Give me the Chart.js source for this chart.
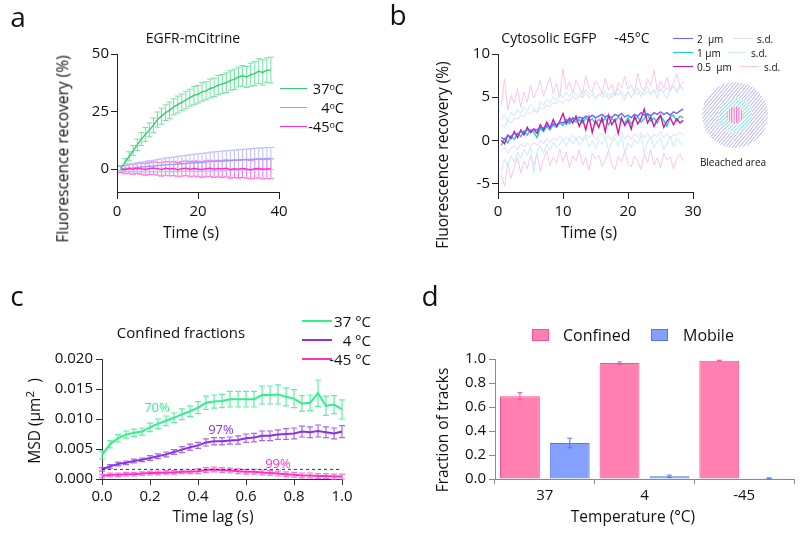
<!DOCTYPE html>
<html>
<head>
<meta charset="utf-8">
<script src="https://cdn.jsdelivr.net/npm/chart.js@4.4.1/dist/chart.umd.min.js"></script>
<style>
body { margin: 0; background: #fff; font-family: 'Open Sans', sans-serif; color: #111; }
#fig { position: relative; width: 800px; height: 533px; overflow: hidden; }
#fig canvas { position: absolute; }
.t { position: absolute; white-space: nowrap; line-height: 1; transform: translate(-50%, -50%); color: #111; }
.deg { font-size: 0.62em; vertical-align: 0.5em; }
.sw { position: absolute; height: 0; }
.box { position: absolute; box-sizing: border-box; }
</style>
</head>
<body>
<div id="fig">
  <canvas id="chartA" width="400" height="266" style="left:0;top:0"></canvas>
  <canvas id="chartB" width="400" height="266" style="left:400px;top:0"></canvas>
  <canvas id="chartC" width="400" height="267" style="left:0;top:266px"></canvas>
  <canvas id="chartD" width="400" height="267" style="left:400px;top:266px"></canvas>
  <svg width="70" height="70" style="position:absolute;left:700px;top:80px">
    <defs>
      <pattern id="hatchOuter" width="2.6" height="3" patternUnits="userSpaceOnUse" patternTransform="rotate(40)">
        <line x1="0" y1="0" x2="0" y2="3" stroke="#8c88f0" stroke-width="1.1"/>
      </pattern>
      <pattern id="hatchMid" width="2.6" height="3" patternUnits="userSpaceOnUse" patternTransform="rotate(45)">
        <line x1="0" y1="0" x2="0" y2="3" stroke="#2fcfd0" stroke-width="1.1"/>
      </pattern>
      <pattern id="hatchIn" width="2.4" height="3" patternUnits="userSpaceOnUse">
        <line x1="0.6" y1="0" x2="0.6" y2="3" stroke="#ec6cc4" stroke-width="1.1"/>
      </pattern>
    </defs>
    <circle cx="35" cy="35" r="33" fill="url(#hatchOuter)"/>
    <circle cx="35" cy="35" r="17" fill="#fff"/>
    <circle cx="35" cy="35" r="17" fill="url(#hatchMid)"/>
    <circle cx="35" cy="35" r="8.5" fill="#fff"/>
    <circle cx="35" cy="35" r="8.5" fill="url(#hatchIn)"/>
  </svg>
</div>
<script>
// ---- panel a: EGFR-mCitrine FRAP ----
const timeA = [1, 2, 3, 4, 5, 6, 7, 8, 9, 10, 11, 12, 13, 14, 15, 16, 17, 18, 19, 20,
  21, 22, 23, 24, 25, 26, 27, 28, 29, 30, 31, 32, 33, 34, 35, 36, 37, 38];
const recov37 = [0.5, 3, 5.5, 8, 10.5, 13, 15, 17, 19, 21.5, 23, 24.5, 25.5, 27, 28, 29, 30, 31, 32, 32.5,
  33.5, 34, 35, 35.5, 36.5, 37, 37.5, 38.5, 39, 40, 40.5, 40, 41, 41.5, 42.5, 42, 43, 43];
const recov37Err = [1, 1.5, 2, 2.2, 2.5, 2.8, 3, 3, 3.2, 3.3, 3.5, 3.4, 3.6, 3.5, 3.7, 3.6, 3.8, 3.7, 3.9, 3.8,
  4, 3.9, 4.1, 4, 4.2, 4.1, 4.3, 4.2, 4.4, 4.3, 4.5, 4.6, 5, 5.2, 5.4, 5.5, 5.3, 5.6];
const recov4 = [0, 0.2, 0.4, 0.5, 0.7, 0.9, 1.0, 1.2, 1.3, 1.5, 1.6, 1.8, 1.9, 2.0, 2.2, 2.3, 2.4, 2.6, 2.7, 2.8,
  2.9, 3.0, 3.2, 3.3, 3.4, 3.5, 3.6, 3.7, 3.8, 3.9, 4.0, 4.1, 4.2, 4.3, 4.4, 4.4, 4.5, 4.6];
const recov4Err = [1, 1.3, 1.5, 1.7, 1.9, 2.1, 2.2, 2.4, 2.5, 2.7, 2.8, 3.0, 3.1, 3.2, 3.3, 3.4, 3.5, 3.6, 3.7, 3.8,
  3.9, 4.0, 4.1, 4.1, 4.2, 4.3, 4.3, 4.4, 4.4, 4.5, 4.5, 4.6, 4.6, 4.7, 4.7, 4.8, 4.8, 4.8];
const recovM45 = [0, -0.3, 0.2, -0.1, 0.3, 0.1, -0.2, 0.2, 0.4, 0.1, -0.2, 0.3, 0.0, 0.2, -0.3, 0.1, 0.3, -0.1, 0.2, 0.0,
  -0.2, 0.1, 0.3, -0.1, 0.2, 0.0, 0.3, -0.2, 0.1, -0.1, 0.2, 0.0, -0.3, 0.1, 0.2, -0.1, 0.0, 0.1];
const recovM45Err = [1.5, 1.8, 2.0, 2.2, 2.3, 2.4, 2.5, 2.6, 2.7, 2.8, 2.9, 3.0, 3.0, 3.1, 3.1, 3.2, 3.2, 3.3, 3.3, 3.4,
  3.4, 3.5, 3.5, 3.6, 3.6, 3.7, 3.7, 3.8, 3.8, 3.9, 3.9, 4.0, 4.0, 4.1, 4.1, 4.2, 4.2, 4.3];
const ticksAX = [0, 20, 40];
const ticksAY = [0, 25, 50];

// ---- panel b: cytosolic EGFP at -45C ----
const timeB = [0.5, 1, 1.5, 2, 2.5, 3, 3.5, 4, 4.5, 5, 5.5, 6, 6.5, 7, 7.5, 8, 8.5, 9, 9.5, 10,
  10.5, 11, 11.5, 12, 12.5, 13, 13.5, 14, 14.5, 15, 15.5, 16, 16.5, 17, 17.5, 18, 18.5, 19, 19.5, 20,
  20.5, 21, 21.5, 22, 22.5, 23, 23.5, 24, 24.5, 25, 25.5, 26, 26.5, 27, 27.5, 28, 28.5];
const mean2um = [0.3, 0.1, 0.5, 0.4, 0.8, 0.7, 1.0, 0.9, 1.2, 1.1, 1.3, 1.2, 1.5, 1.4, 1.7, 1.6, 1.9, 1.8, 2.1, 2.0,
  2.4, 2.2, 2.6, 2.4, 2.7, 2.5, 2.8, 2.6, 2.9, 2.6, 2.8, 3.0, 2.7, 2.9, 2.6, 3.0, 2.8, 3.1, 2.7, 2.9,
  2.6, 3.0, 2.8, 3.2, 2.9, 3.1, 2.8, 3.2, 3.0, 3.3, 3.0, 3.2, 2.9, 3.3, 3.1, 3.4, 3.6];
const mean1um = [-0.6, 0.2, -0.3, 0.5, 0.1, 0.8, 0.4, 1.1, 0.6, 1.2, 0.9, 0.3, 1.4, 1.0, 1.6, 1.2, 1.8, 1.5, 2.0, 1.7,
  2.3, 1.9, 2.5, 2.1, 2.4, 2.0, 2.6, 2.2, 2.5, 1.9, 2.4, 2.1, 2.6, 1.8, 2.5, 2.2, 2.7, 2.3, 2.0, 2.6,
  1.9, 2.4, 2.7, 2.1, 2.5, 3.0, 2.2, 2.6, 2.0, 2.8, 2.3, 1.6, 2.7, 2.9, 2.2, 2.8, 2.6];
const mean05um = [0.0, -0.4, 0.6, 0.2, 1.0, 0.3, 1.2, 0.6, 1.5, 0.9, 1.3, 0.8, 1.8, 1.2, 2.1, 1.4, 2.4, 1.6, 2.2, 3.1,
  1.9, 2.6, 2.0, 2.8, 1.6, 2.5, 1.2, 2.7, 0.9, 2.3, 1.5, 2.6, 1.0, 2.9, 1.8, 2.4, 0.8, 2.6, 1.7, 2.3,
  1.3, 2.8, 1.9, 2.5, 3.6, 2.0, 2.7, 1.6, 2.4, 2.9, 1.5, 2.2, 2.6, 1.8, 2.5, 2.0, 2.3];
const sdHigh2um = [1.8, 1.5, 2.3, 2.0, 2.6, 2.4, 2.9, 2.7, 3.3, 3.0, 3.5, 3.2, 3.8, 3.6, 4.1, 3.9, 4.4, 4.2, 4.6, 4.3,
  4.8, 4.5, 5.1, 4.7, 5.2, 4.9, 5.4, 5.0, 5.3, 4.8, 5.2, 5.5, 5.0, 5.4, 4.9, 5.6, 5.2, 5.7, 5.1, 5.5,
  5.0, 5.6, 5.3, 5.8, 5.2, 5.7, 5.4, 5.9, 5.5, 6.0, 5.6, 6.1, 5.7, 6.2, 5.8, 6.3, 6.0];
const sdHigh1um = [2.4, 3.0, 2.2, 3.3, 2.8, 3.6, 3.1, 3.9, 3.4, 4.2, 3.8, 3.2, 4.5, 4.0, 4.8, 4.3, 5.1, 4.6, 5.4, 4.9,
  5.6, 5.0, 5.8, 5.2, 5.5, 4.9, 5.9, 5.3, 5.7, 4.8, 5.4, 5.0, 5.8, 4.7, 5.5, 5.1, 6.0, 5.3, 4.6, 5.7,
  4.9, 5.5, 6.1, 5.0, 5.6, 6.3, 5.2, 5.8, 4.9, 6.0, 5.4, 4.8, 5.9, 6.4, 5.5, 6.2, 5.8];
const sdHigh05um = [4.0, 7.1, 3.5, 5.2, 4.3, 6.0, 3.8, 5.6, 4.4, 6.4, 4.9, 5.8, 6.9, 5.1, 6.2, 7.3, 5.4, 6.6, 5.0, 8.3,
  5.9, 6.8, 5.5, 7.0, 6.1, 5.3, 7.5, 6.0, 5.6, 6.9, 6.3, 5.4, 7.2, 5.8, 6.5, 5.2, 6.7, 6.1, 7.4, 5.9,
  6.4, 5.5, 7.8, 6.2, 5.7, 7.1, 6.3, 8.1, 5.8, 6.9, 6.0, 7.3, 5.9, 6.6, 7.7, 6.2, 6.8];
const sdLow2um = [-1.2, -0.8, -1.5, -0.9, -0.6, -1.1, -0.4, -0.8, -0.3, -0.7, -0.2, -0.6, 0.0, -0.4, 0.2, -0.3, 0.3, -0.1, 0.5, 0.0,
  0.4, 0.1, 0.6, 0.2, 0.5, 0.0, 0.7, 0.3, 0.6, 0.1, 0.5, 0.8, 0.2, 0.6, 0.0, 0.7, 0.3, 0.9, 0.2, 0.6,
  0.1, 0.7, 0.4, 0.9, 0.3, 0.8, 0.2, 0.7, 0.4, 1.0, 0.3, 0.8, 0.2, 0.7, 0.5, 0.9, 0.6];
const sdLow1um = [-3.6, -2.2, -3.0, -1.8, -2.5, -1.4, -2.1, -1.0, -1.7, -0.8, -3.8, -1.3, -0.6, -1.5, -0.4, -1.2, -0.2, -0.9, -0.5, 0.1,
  -0.7, 0.2, -0.4, 0.3, -0.6, -0.1, 0.4, -0.8, 0.0, -1.0, 0.1, -0.5, 0.3, -1.2, -0.2, 0.2, -0.6, 0.5, -1.4, -0.3,
  -0.8, 0.1, -0.4, 0.6, -1.5, -0.2, 0.4, -0.9, -0.1, 0.3, -1.1, -0.4, 0.5, -0.7, 0.2, -0.3, -0.6];
const sdLow05um = [-4.0, -5.3, -2.6, -4.4, -3.1, -2.0, -3.8, -2.4, -3.3, -1.8, -2.9, -1.5, -3.6, -2.2, -1.2, -3.0, -1.9, -2.7, -1.0, -2.5,
  -1.4, -3.2, -1.8, -2.4, -1.1, -2.9, -2.0, -3.5, -1.5, -2.2, -1.7, -3.0, -2.3, -1.2, -2.8, -3.4, -1.9, -2.5, -1.3, -2.7,
  -3.1, -1.8, -2.4, -3.4, -1.6, -2.6, -1.1, -2.9, -2.0, -3.2, -1.5, -2.3, -1.9, -3.3, -2.1, -1.6, -2.4];
const ticksBX = [0, 10, 20, 30];
const ticksBY = [-5, 0, 5, 10];

// ---- panel c: MSD of confined tracks ----
const lagC = [0, 0.033, 0.067, 0.1, 0.133, 0.167, 0.2, 0.233, 0.267, 0.3, 0.333, 0.367, 0.4, 0.433, 0.467, 0.5,
  0.533, 0.567, 0.6, 0.633, 0.667, 0.7, 0.733, 0.767, 0.8, 0.833, 0.867, 0.9, 0.933, 0.967, 1.0];
const msd37 = [0.0040, 0.0058, 0.0068, 0.0074, 0.0077, 0.0079, 0.0086, 0.0092, 0.0097, 0.0102, 0.0108, 0.0113, 0.0119, 0.0127, 0.0129, 0.0130,
  0.0133, 0.0133, 0.0133, 0.0133, 0.0140, 0.0140, 0.0141, 0.0137, 0.0134, 0.0126, 0.0127, 0.0143, 0.0122, 0.0124, 0.0116];
const msd37Err = [0.0007, 0.0006, 0.0006, 0.0006, 0.0006, 0.0006, 0.0007, 0.0008, 0.0008, 0.0008, 0.0009, 0.0009, 0.0010, 0.0011, 0.0011, 0.0011,
  0.0013, 0.0013, 0.0013, 0.0013, 0.0015, 0.0015, 0.0016, 0.0015, 0.0015, 0.0013, 0.0013, 0.0022, 0.0016, 0.0015, 0.0016];
const msd4 = [0.0016, 0.0021, 0.0025, 0.0027, 0.0030, 0.0032, 0.0035, 0.0038, 0.0041, 0.0045, 0.0049, 0.0053, 0.0056, 0.0061, 0.0063, 0.0063,
  0.0064, 0.0065, 0.0068, 0.0069, 0.0072, 0.0072, 0.0074, 0.0075, 0.0076, 0.0079, 0.0078, 0.0080, 0.0078, 0.0076, 0.0079];
const msd4Err = [0.0003, 0.0003, 0.0003, 0.0003, 0.0003, 0.0003, 0.0004, 0.0004, 0.0004, 0.0004, 0.0005, 0.0005, 0.0005, 0.0006, 0.0006, 0.0006,
  0.0006, 0.0007, 0.0007, 0.0007, 0.0008, 0.0008, 0.0008, 0.0009, 0.0009, 0.0009, 0.0009, 0.0010, 0.0009, 0.0009, 0.0010];
const msdM45 = [0.0005, 0.0007, 0.0007, 0.0008, 0.0008, 0.0009, 0.0010, 0.0010, 0.0011, 0.0011, 0.0012, 0.0012, 0.0013, 0.0015, 0.0016, 0.0015,
  0.0014, 0.0013, 0.0012, 0.0012, 0.0011, 0.0010, 0.0009, 0.0008, 0.0007, 0.0006, 0.0006, 0.0005, 0.0005, 0.0004, 0.0004];
const msdM45Err = [0.0003, 0.0003, 0.0003, 0.0003, 0.0003, 0.0003, 0.0003, 0.0003, 0.0003, 0.0003, 0.0003, 0.0003, 0.0004, 0.0004, 0.0004, 0.0004,
  0.0004, 0.0004, 0.0004, 0.0004, 0.0004, 0.0004, 0.0004, 0.0004, 0.0004, 0.0004, 0.0004, 0.0004, 0.0004, 0.0004, 0.0004];
const confinedThreshold = 0.0016;
const ticksCX = [0, 0.2, 0.4, 0.6, 0.8, 1.0];
const ticksCY = [0, 0.005, 0.010, 0.015, 0.020];

// ---- panel d: fraction of tracks ----
const temps = ['37', '4', '-45'];
const confined = [0.69, 0.966, 0.986];
const confinedErr = [0.03, 0.01, 0.004];
const mobile = [0.30, 0.022, 0.006];
const mobileErr = [0.04, 0.01, 0.003];
const ticksDY = [0, 0.2, 0.4, 0.6, 0.8, 1.0];

// colours
const GREEN_A = '#2fcf72', GREEN_A_ERR = '#74e2a2';
const LAV_A = '#9a9cff', LAV_A_ERR = '#bcbdff';
const PINK_A = '#ff2ccf', PINK_A_ERR = '#ff72e0';
const BLUE_B = '#6b63ff', CYAN_B = '#1fcfcf', MAG_B = '#d3139e';
const BLUE_B_SD = '#dcdcff', CYAN_B_SD = '#c4eef2', MAG_B_SD = '#f6c8ec';
const GREEN_C = '#2ff08c', PURPLE_C = '#8b2fe8', PINK_C = '#ff30c8';
const GREEN_C_ERR = '#5cf2a4', PURPLE_C_ERR = '#a965ee', PINK_C_ERR = '#ff70dc';
const CONF_FILL = '#ff80b0', CONF_BORDER = '#ff4f95';
const MOB_FILL = '#84a1ff', MOB_BORDER = '#4b78ff';

const FONT = 'Open Sans';
const TICK_SIZE = 15;
const pts = (xs, ys) => xs.map((x, i) => ({ x: x, y: ys[i] }));
const fixedTicks = list => scale => { scale.ticks = list.map(v => ({ value: v })); };

// error bars drawn from each dataset's "errors" array
function drawErrorBars(chart, opts) {
  const ctx = chart.ctx;
  const yScale = chart.scales.y;
  chart.data.datasets.forEach((ds, i) => {
    if (!ds.errors) return;
    const meta = chart.getDatasetMeta(i);
    ctx.save();
    ctx.strokeStyle = ds.errorColor || ds.borderColor;
    ctx.lineWidth = opts.width || 1;
    meta.data.forEach((el, j) => {
      const raw = ds.data[j];
      const v = typeof raw === 'number' ? raw : raw.y;
      const e = ds.errors[j];
      const top = yScale.getPixelForValue(v + e);
      const bot = yScale.getPixelForValue(v - e);
      const c = opts.cap || 3;
      ctx.beginPath();
      ctx.moveTo(el.x, top); ctx.lineTo(el.x, bot);
      ctx.moveTo(el.x - c, top); ctx.lineTo(el.x + c, top);
      ctx.moveTo(el.x - c, bot); ctx.lineTo(el.x + c, bot);
      ctx.stroke();
    });
    ctx.restore();
  });
}
const errorBarPlugin = {
  id: 'errorBars',
  beforeDatasetsDraw(chart, args, opts) { if (opts.under) drawErrorBars(chart, opts); },
  afterDatasetsDraw(chart, args, opts) { if (!opts.under) drawErrorBars(chart, opts); }
};

function axis(color, tickLen, pad, extra) {
  return Object.assign({
    border: { display: true, color: color, width: 1 },
    grid: { display: true, drawOnChartArea: false, drawTicks: true, tickLength: tickLen, color: color },
    ticks: { color: '#111', padding: pad, font: { family: FONT, size: TICK_SIZE } }
  }, extra);
}

function lineSet(label, xs, ys, color, width, errs, errColor, dash) {
  return {
    label: label, data: pts(xs, ys), borderColor: color, borderWidth: width,
    pointRadius: 0, tension: 0, fill: false, errors: errs, errorColor: errColor,
    borderDash: dash || []
  };
}

const baseOpts = {
  responsive: false, animation: false,
  plugins: { legend: { display: false }, tooltip: { enabled: false } }
};

// panel a
new Chart(document.getElementById('chartA'), {
  type: 'line',
  data: { datasets: [
    lineSet('-45ºC', timeA, recovM45, PINK_A, 1.4, recovM45Err, PINK_A_ERR),
    lineSet('4ºC', timeA, recov4, LAV_A, 1.4, recov4Err, LAV_A_ERR),
    lineSet('37ºC', timeA, recov37, GREEN_A, 1.4, recov37Err, GREEN_A_ERR)
  ] },
  options: Object.assign({}, baseOpts, {
    layout: { padding: { left: 77, right: 121, top: 54, bottom: 44 } },
    plugins: Object.assign({}, baseOpts.plugins, { errorBars: { under: true, cap: 3, width: 1 } }),
    scales: {
      x: axis('#222', 7, 4, { type: 'linear', min: 0, max: 40, afterBuildTicks: fixedTicks(ticksAX), afterFit: s => { s.height = 30; } }),
      y: axis('#222', 6, 2, { min: -10, max: 50, afterBuildTicks: fixedTicks(ticksAY), afterFit: s => { s.width = 40; } })
    }
  }),
  plugins: [errorBarPlugin]
});

// panel b
new Chart(document.getElementById('chartB'), {
  type: 'line',
  data: { datasets: [
    lineSet('s.d.', timeB, sdHigh2um, BLUE_B_SD, 1),
    lineSet('s.d.', timeB, sdLow2um, BLUE_B_SD, 1),
    lineSet('s.d.', timeB, sdHigh1um, CYAN_B_SD, 1),
    lineSet('s.d.', timeB, sdLow1um, CYAN_B_SD, 1),
    lineSet('s.d.', timeB, sdHigh05um, MAG_B_SD, 1),
    lineSet('s.d.', timeB, sdLow05um, MAG_B_SD, 1),
    lineSet('2 µm', timeB, mean2um, BLUE_B, 1.4),
    lineSet('0.5 µm', timeB, mean05um, MAG_B, 1.4),
    lineSet('1 µm', timeB, mean1um, CYAN_B, 1.4)
  ] },
  options: Object.assign({}, baseOpts, {
    layout: { padding: { left: 58, right: 107, top: 54, bottom: 44 } },
    scales: {
      x: axis('#222', 7, 4, { type: 'linear', min: 0, max: 30, afterBuildTicks: fixedTicks(ticksBX), afterFit: s => { s.height = 30; } }),
      y: axis('#222', 6, 2, { min: -6, max: 10, afterBuildTicks: fixedTicks(ticksBY), afterFit: s => { s.width = 40; } })
    }
  })
});

// panel c
new Chart(document.getElementById('chartC'), {
  type: 'line',
  data: { datasets: [
    lineSet('threshold', [0, 1], [confinedThreshold, confinedThreshold], '#333', 1, null, null, [3, 3]),
    lineSet('-45 °C', lagC, msdM45, PINK_C, 2, msdM45Err, PINK_C_ERR),
    lineSet('4 °C', lagC, msd4, PURPLE_C, 2, msd4Err, PURPLE_C_ERR),
    lineSet('37 °C', lagC, msd37, GREEN_C, 2, msd37Err, GREEN_C_ERR)
  ] },
  options: Object.assign({}, baseOpts, {
    layout: { padding: { left: 52, right: 58, top: 93, bottom: 24 } },
    plugins: Object.assign({}, baseOpts.plugins, { errorBars: { under: true, cap: 3, width: 1.2 } }),
    scales: {
      x: axis('#333', 6, 3, { type: 'linear', min: 0, max: 1, afterBuildTicks: fixedTicks(ticksCX), afterFit: s => { s.height = 30; },
        ticks: { color: '#111', padding: 3, font: { family: FONT, size: TICK_SIZE }, callback: v => v.toFixed(1) } }),
      y: axis('#333', 6, 3, { min: 0, max: 0.02, afterBuildTicks: fixedTicks(ticksCY), afterFit: s => { s.width = 50; },
        ticks: { color: '#111', padding: 3, font: { family: FONT, size: TICK_SIZE }, callback: v => v.toFixed(3) } })
    }
  }),
  plugins: [errorBarPlugin]
});

// panel d
new Chart(document.getElementById('chartD'), {
  type: 'bar',
  data: {
    labels: temps,
    datasets: [
      { label: 'Confined', data: confined, errors: confinedErr, backgroundColor: CONF_FILL, borderColor: CONF_BORDER, errorColor: CONF_BORDER, borderWidth: 1 },
      { label: 'Mobile', data: mobile, errors: mobileErr, backgroundColor: MOB_FILL, borderColor: MOB_BORDER, errorColor: MOB_BORDER, borderWidth: 1 }
    ]
  },
  options: Object.assign({}, baseOpts, {
    layout: { padding: { left: 55, right: 6, top: 93, bottom: 24 } },
    plugins: Object.assign({}, baseOpts.plugins, { errorBars: { under: false, cap: 2.5, width: 1 } }),
    datasets: { bar: { categoryPercentage: 1.0, barPercentage: 0.8 } },
    scales: {
      x: axis('#8a8a8a', 5, 3, { grid: { display: true, drawOnChartArea: false, offset: true, tickLength: 5, color: '#8a8a8a' }, afterFit: s => { s.height = 30; } }),
      y: axis('#8a8a8a', 6, 3, { min: 0, max: 1, afterBuildTicks: fixedTicks(ticksDY), afterFit: s => { s.width = 40; },
        ticks: { color: '#111', padding: 3, font: { family: FONT, size: TICK_SIZE }, callback: v => v.toFixed(1) } })
    }
  }),
  plugins: [errorBarPlugin]
});

// ---- text, legends ----
const fig = document.getElementById('fig');
function addText(html, x, y, size, opts) {
  opts = opts || {};
  const el = document.createElement('div');
  el.className = 't';
  el.style.left = x + 'px';
  el.style.top = y + 'px';
  el.style.fontSize = size + 'px';
  if (opts.color) el.style.color = opts.color;
  if (opts.rot) el.style.transform = 'translate(-50%, -50%) rotate(-90deg)';
  if (opts.align === 'left') el.style.transform = 'translate(0, -50%)';
  if (opts.align === 'right') el.style.transform = 'translate(-100%, -50%)';
  el.innerHTML = html;
  fig.appendChild(el);
}
function addSwatch(x1, x2, y, color, w) {
  const el = document.createElement('div');
  el.className = 'sw';
  el.style.left = x1 + 'px';
  el.style.width = (x2 - x1) + 'px';
  el.style.top = (y - w / 2) + 'px';
  el.style.borderTop = w + 'px solid ' + color;
  fig.appendChild(el);
}
function addBox(x, y, w, h, fill, border) {
  const el = document.createElement('div');
  el.className = 'box';
  Object.assign(el.style, { left: x + 'px', top: y + 'px', width: w + 'px', height: h + 'px', background: fill, border: '1px solid ' + border });
  fig.appendChild(el);
}

// panel letters
addText('a', 18, 16, 28);
addText('b', 398, 14, 28);
addText('c', 17, 295, 28);
addText('d', 430, 295, 28);

// a
addText('EGFR-mCitrine', 193, 38, 14);
addText('Time (s)', 191, 233, 15.5);
addText('Fluorescence recovery (%)', 62.5, 148.5, 15.5, { rot: true });
addSwatch(280, 307, 88.5, GREEN_A, 1.5);
addSwatch(280, 307, 107.5, LAV_A, 1.5);
addSwatch(280, 307, 126.5, PINK_A, 1.5);
addText('37<span class="deg">o</span>C', 344, 89, 14.5, { align: 'right' });
addText('4<span class="deg">o</span>C', 344, 108, 14.5, { align: 'right' });
addText('-45<span class="deg">o</span>C', 344, 127, 14.5, { align: 'right' });

// b
addText('Cytosolic EGFP', 549, 38, 14);
addText('-45°C', 632, 38, 14);
addText('Time (s)', 589, 233, 15.5);
addText('Fluorescence recovery (%)', 443, 155, 15.5, { rot: true });
addSwatch(673, 693, 38.5, BLUE_B, 1.5);
addSwatch(673, 693, 52.5, CYAN_B, 1.5);
addSwatch(673, 693, 66.5, MAG_B, 1.5);
addText('2&nbsp;&nbsp;µm', 697, 39, 10, { align: 'left' });
addText('1 µm', 697, 53, 10, { align: 'left' });
addText('0.5&nbsp;&nbsp;µm', 697, 67, 10, { align: 'left' });
addSwatch(733, 753, 38.5, BLUE_B_SD, 1);
addSwatch(728, 746, 52.5, CYAN_B_SD, 1);
addSwatch(740, 759, 66.5, MAG_B_SD, 1);
addText('s.d.', 757, 39, 10, { align: 'left' });
addText('s.d.', 751, 53, 10, { align: 'left' });
addText('s.d.', 764, 67, 10, { align: 'left' });
addText('Bleached area', 733, 162, 10);

// c
addText('Confined fractions', 181, 332, 15);
addText('Time lag (s)', 213, 517, 15.5);
addText('MSD (µm<sup style="font-size:0.75em">2</sup>&nbsp;&nbsp;)', 33, 421, 15.5, { rot: true });
addSwatch(302, 332, 321, GREEN_C, 2);
addSwatch(302, 332, 340, PURPLE_C, 2);
addSwatch(302, 332, 359, PINK_C, 2);
addText('37 °C', 371, 321, 15, { align: 'right' });
addText('4 °C', 371, 340, 15, { align: 'right' });
addText('-45 °C', 371, 359, 15, { align: 'right' });
addText('70%', 157, 407, 13, { color: GREEN_C });
addText('97%', 221, 429, 13, { color: PURPLE_C });
addText('99%', 278, 463, 13, { color: PINK_C });

// d
addBox(532, 329, 16.5, 12, CONF_FILL, CONF_BORDER);
addBox(651, 329, 16.5, 12, MOB_FILL, MOB_BORDER);
addText('Confined', 563, 335, 16, { align: 'left' });
addText('Mobile', 683, 335, 16, { align: 'left' });
addText('Temperature (°C)', 633, 517, 15.5);
addText('Fraction of tracks', 443, 430, 15.5, { rot: true });
</script>
</body>
</html>
